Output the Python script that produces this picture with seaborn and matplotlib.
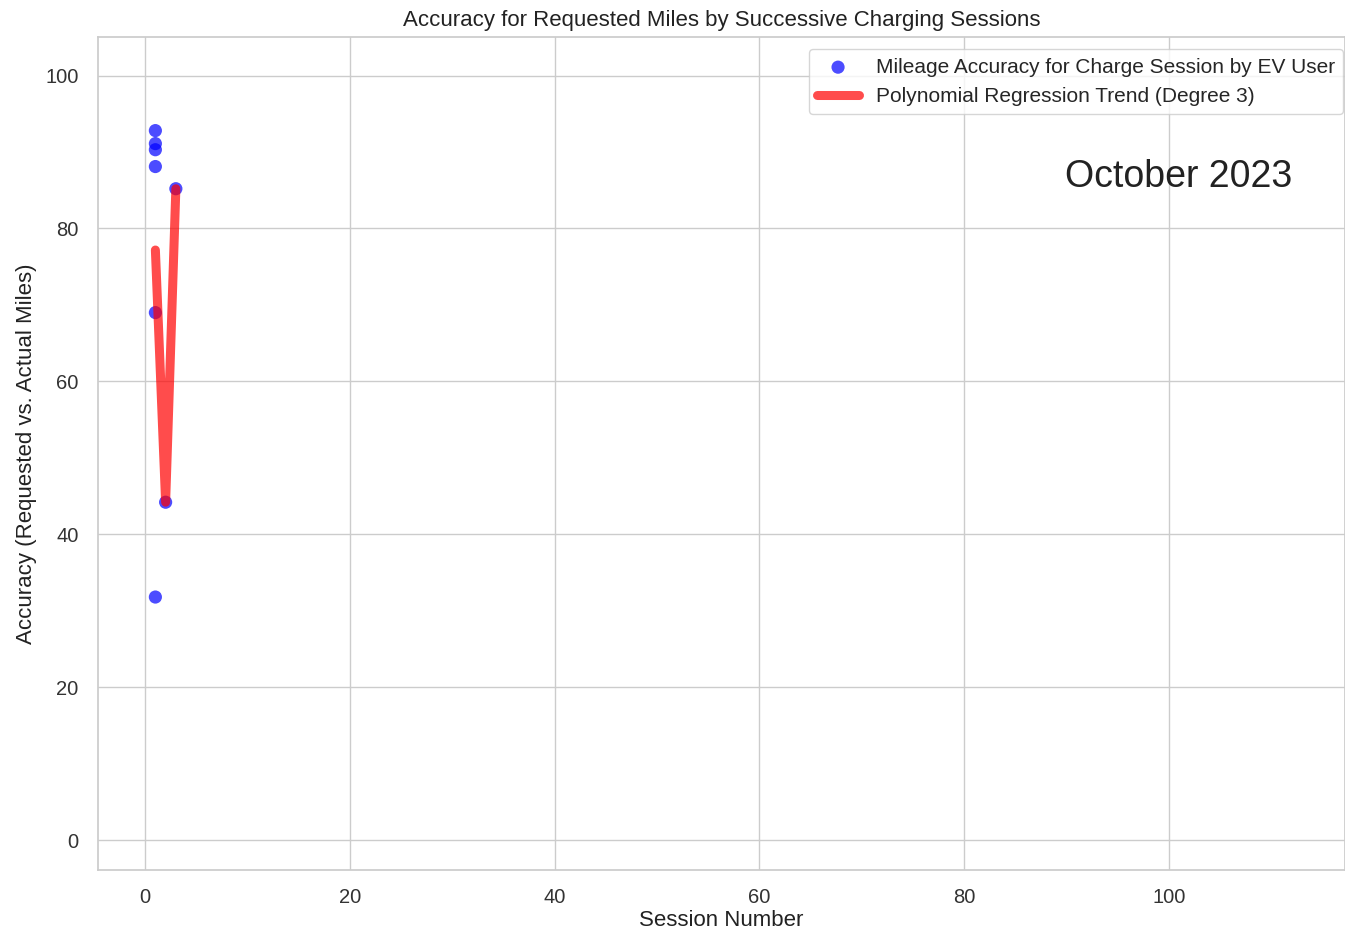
import warnings
import numpy as np
import pandas as pd
import matplotlib
matplotlib.use("Agg")
import matplotlib.pyplot as plt
import seaborn as sns

# Session number and mileage accuracy (%) for each charge session
session_number = [1, 1, 1, 1, 1, 1, 2, 3]
accuracy = [92.8, 91.1, 90.3, 88.1, 69.0, 31.8, 44.2, 85.2]
month_label = "October 2023"

df = pd.DataFrame({"session": session_number, "accuracy": accuracy})

# Degree-3 polynomial trend evaluated at each session, in data order
with warnings.catch_warnings():
    warnings.simplefilter("ignore")
    coeffs = np.polyfit(df["session"], df["accuracy"], 3)
df["trend"] = np.polyval(coeffs, df["session"])

sns.set_theme(style="whitegrid")
plt.rcParams["font.family"] = ["Liberation Sans", "DejaVu Sans"]

fig = plt.figure(figsize=(13.45, 9.33), dpi=100)
ax = fig.add_axes([0.0729, 0.0675, 0.9271, 0.8925])

sns.scatterplot(data=df, x="session", y="accuracy", ax=ax, color="blue",
                alpha=0.7, s=90, edgecolor="none",
                label="Mileage Accuracy for Charge Session by EV User")
sns.lineplot(data=df, x="session", y="trend", ax=ax, sort=False,
             estimator=None, color="red", alpha=0.7, linewidth=6.5,
             label="Polynomial Regression Trend (Degree 3)")

ax.set_xlim(-4.6, 117.2)
ax.set_ylim(-3.9, 105)
ax.set_xticks([0, 20, 40, 60, 80, 100])
ax.set_yticks([0, 20, 40, 60, 80, 100])
ax.tick_params(labelsize=14.5, colors="#333333")
ax.tick_params(axis="x", pad=7)
ax.tick_params(axis="y", pad=8)

ax.set_title("Accuracy for Requested Miles by Successive Charging Sessions",
             fontsize=16, color="#222222", pad=8)
ax.set_xlabel("Session Number", fontsize=16, color="#222222", labelpad=2)
ax.set_ylabel("Accuracy (Requested vs. Actual Miles)", fontsize=16,
              color="#222222", labelpad=6)

ax.text(0.958, 0.832, month_label, transform=ax.transAxes, fontsize=27,
        color="#222222", ha="right", va="center")

ax.legend(loc="upper right", fontsize=15, frameon=True,
          bbox_to_anchor=(0.9984, 0.9856), borderaxespad=0)

fig.savefig("out.png", dpi=100)
